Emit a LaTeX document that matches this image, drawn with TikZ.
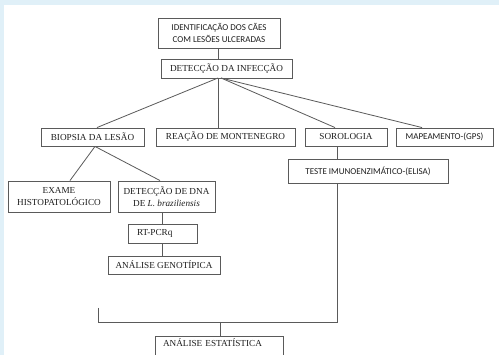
\documentclass[tikz,border=0pt]{standalone}
\usepackage{fontspec}
\setmainfont{Liberation Serif}
\newfontfamily\calfont{Carlito}
\definecolor{bgblue}{HTML}{E0F0F8}
\definecolor{linegray}{HTML}{5A5A5A}
\definecolor{txt}{HTML}{1E1E1E}
\begin{document}
\begin{tikzpicture}[x=1pt,y=-1pt,
  box/.style={draw=linegray, line width=0.9pt, fill=white, text=txt, inner sep=0pt,
     font=\fontsize{9.2}{12}\selectfont, align=center, anchor=center},
  cbox/.style={box, font=\calfont\fontsize{9}{12.5}\selectfont},
  conn/.style={draw=linegray, line width=0.8pt}]
\useasboundingbox (0,0) rectangle (499,355);
\clip (0,0) rectangle (499,355);
\fill[white] (0,0) rectangle (499,355);
\fill[bgblue] (0,0) rectangle (499,5);
\fill[bgblue] (0,0) rectangle (4,355);

\node[cbox, minimum width=122, minimum height=30] (top) at (219,33) {IDENTIFICAÇÃO DOS CÃES\\COM LESÕES ULCERADAS};
\node[box, minimum width=131, minimum height=19] (det) at (226.5,68.5) {DETECÇÃO DA INFECÇÃO};
\node[box, minimum width=103, minimum height=18] (bio) at (92.5,137) {BIOPSIA DA LESÃO};
\node[box, minimum width=139, minimum height=18] (rea) at (225.5,137) {REAÇÃO DE MONTENEGRO};
\node[box, minimum width=82, minimum height=18] (sor) at (346,137) {SOROLOGIA};
\node[cbox, minimum width=97, minimum height=18] (map) at (444.5,137) {MAPEAMENTO-(GPS)};
\node[cbox, minimum width=160, minimum height=24] (tes) at (368,171) {TESTE IMUNOENZIMÁTICO-(ELISA)};
\node[box, minimum width=102, minimum height=31, font=\fontsize{9.2}{11.5}\selectfont] (exa) at (59,196.5) {EXAME\\HISTOPATOLÓGICO};
\node[box, minimum width=97, minimum height=31, font=\fontsize{9.2}{11.5}\selectfont] (dna) at (166.5,196.5) {DETECÇÃO DE DNA\\DE \textit{L. braziliensis}};
\node[box, minimum height=19, text width=51, inner xsep=9, align=left] (rtp) at (162.5,233.5) {RT-PCRq};
\node[box, minimum width=112, minimum height=18] (gen) at (164,265) {ANÁLISE GENOTÍPICA};
\node[box, anchor=north, text width=112, inner xsep=8, align=left, inner ysep=3, text height=7, text depth=22] (est) at (219,336) {ANÁLISE ESTATÍSTICA};

\coordinate (fan) at (218,78);
\coordinate (fanr) at (221,78);
\coordinate (brR) at (337,322);
\coordinate (brL) at (98,322);
\coordinate (brLt) at (98,308);

\draw[conn] (top.south -| fan) -- (det.north -| fan);
\draw[conn] (fan) -- ([xshift=4.5]bio.north);
\draw[conn] (fan) -- (rea.north -| fan);
\draw[conn] (fanr) -- ([xshift=-11]sor.north);
\draw[conn] (fanr) -- ([xshift=-22.5]map.north);
\draw[conn] ([xshift=2.5]bio.south) -- ([xshift=11]exa.north);
\draw[conn] ([xshift=2.5]bio.south) -- ([xshift=-6.5]dna.north);
\draw[conn] (rtp.north |- dna.south) -- (rtp.north);
\draw[conn] (rtp.south) -- (rtp.south |- gen.north);
\draw[conn] ([xshift=-9]sor.south) -- ([xshift=-9]sor.south |- tes.north);
\draw[conn] (brLt) -- (brL) -- (brR) -- (tes.south -| brR);
\draw[conn] ([xshift=1]est.north |- brR) -- ([xshift=1]est.north);
\end{tikzpicture}
\end{document}
